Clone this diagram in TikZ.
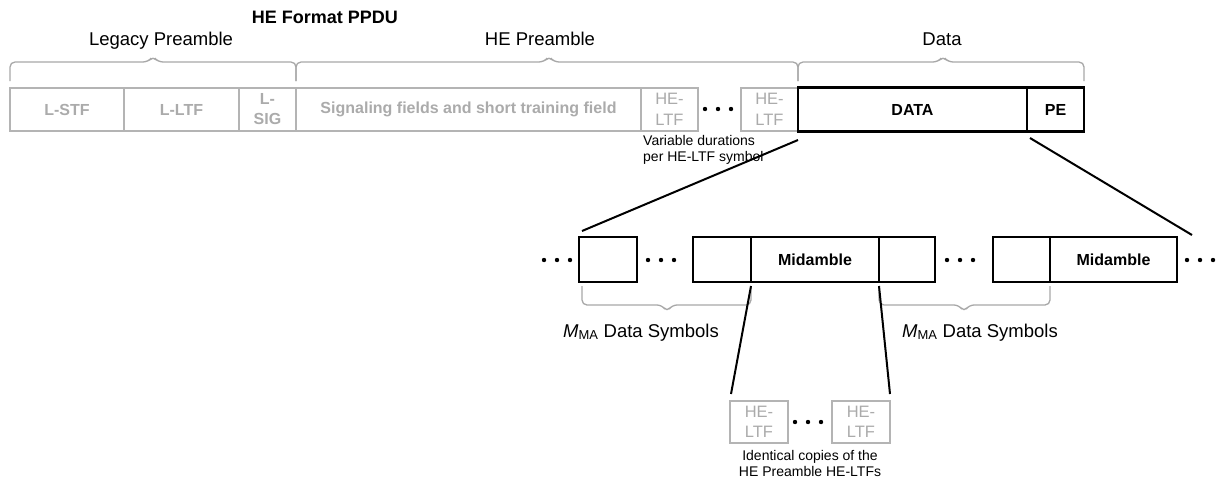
\documentclass[tikz,border=0pt]{standalone}
\usepackage{fontspec}
\setmainfont{Liberation Sans}
\definecolor{gline}{HTML}{B4B4B4}
\definecolor{gtext}{HTML}{ABABAB}
\definecolor{gbrace}{HTML}{A8A8A8}
\begin{document}
\begin{tikzpicture}[x=1pt,y=-1pt,
  gbox/.style={draw=gline, line width=2pt, text=gtext, inner sep=0pt, align=center, minimum height=43pt,
    font=\fontsize{16}{20}\selectfont\bfseries},
  gltf/.style={gbox, font=\fontsize{16.5}{20.5}\selectfont},
  bbox/.style={draw=black, line width=2.3pt, text=black, inner sep=0pt, align=center, minimum height=44pt,
    font=\fontsize{16}{20}\selectfont\bfseries},
  bracepath/.style={draw=gbrace, line width=1.3pt, rounded corners=5pt},
  conn/.style={draw=black, line width=2pt},
  bigl/.style={font=\fontsize{18.5}{22}\selectfont, inner sep=0pt},
  small/.style={font=\fontsize{14}{16.5}\selectfont, inner sep=0pt},
  dot/.style={fill=black}
]
\fill[white] (0,0) rectangle (1221,480);
\useasboundingbox (0,0) rectangle (1221,480);

% titles
\node[bigl, font=\fontsize{18}{22}\selectfont\bfseries, anchor=base] (title) at (325,23) {HE Format PPDU};
\node[bigl, anchor=base] (legacy) at (161,45) {Legacy Preamble};
\node[bigl, anchor=base] (hepre) at (540,45) {HE Preamble};
\node[bigl, anchor=base] (datal) at (942,45) {Data};

% top braces
\draw[bracepath] (10,81) -- (10,62) -- (148,62) -- (153,56) -- (158,62) -- (296,62) -- (296,81);
\draw[bracepath] (296,81) -- (296,62) -- (544,62) -- (549,56) -- (554,62) -- (798,62) -- (798,81);
\draw[bracepath] (798,81) -- (798,62) -- (938,62) -- (943,56) -- (948,62) -- (1084,62) -- (1084,81);

% top row
\node[gbox, minimum width=114pt] (lstf) at (67,109.5) {L-STF};
\node[gbox, minimum width=115pt] (lltf) at (181.5,109.5) {L-LTF};
\node[gbox, minimum width=57pt] (lsig) at (267.5,109.5) {L-\\SIG};
\node[gbox, minimum width=345pt] (sig) at (468.5,109.5) {Signaling fields and short training field};
\node[gltf, minimum width=57pt] (heltfa) at (669.5,109.5) {HE-\\LTF};
\node[gltf, minimum width=57pt] (heltfb) at (769.5,109.5) {HE-\\LTF};
\node[bbox, minimum width=229pt] (data) at (912.5,109.5) {DATA};
\node[bbox, minimum width=57pt] (pe) at (1055.5,109.5) {PE};
\foreach \x in {705,718,731} \fill[dot] (\x,109) circle (2.2pt);

\node[small, anchor=north west, align=left] (vardur) at (643,135) {Variable durations\\per HE-LTF symbol};

% second row
\node[bbox, minimum width=58pt, minimum height=45pt] (s1) at (608,259.5) {};
\node[bbox, minimum width=58pt, minimum height=45pt] (s2) at (722,259.5) {};
\node[bbox, minimum width=128pt, minimum height=45pt] (mid1) at (815,259.5) {Midamble};
\node[bbox, minimum width=56pt, minimum height=45pt] (s3) at (907,259.5) {};
\node[bbox, minimum width=57pt, minimum height=45pt] (s4) at (1021.5,259.5) {};
\node[bbox, minimum width=127pt, minimum height=45pt] (mid2) at (1113.5,259.5) {Midamble};
\foreach \x in {544,557,570,648,661,674,947,960,973,1187,1200,1213} \fill[dot] (\x,260) circle (2.2pt);

% zoom connectors
\coordinate (z1) at (798,140);
\coordinate (z2) at (582,231);
\coordinate (z3) at (1030,138);
\coordinate (z4) at (1192,235);
\draw[conn] (z1) -- (z2);
\draw[conn] (z3) -- (z4);

% lower braces
\draw[bracepath] (582,286) -- (582,305) -- (662,305) -- (667,312) -- (672,305) -- (751,305) -- (751,286);
\draw[bracepath] (879,286) -- (879,305) -- (959,305) -- (964,312) -- (969,305) -- (1050,305) -- (1050,286);
\node[bigl, anchor=base west] (mma1) at (563,337) {\textit{M}\textsubscript{MA} Data Symbols};
\node[bigl, anchor=base west] (mma2) at (902,337) {\textit{M}\textsubscript{MA} Data Symbols};

% bottom HE-LTF copies
\node[gltf, minimum width=58pt, minimum height=42pt] (c1) at (759,422) {HE-\\LTF};
\node[gltf, minimum width=58pt, minimum height=42pt] (c2) at (861,422) {HE-\\LTF};
\foreach \x in {795,808,821} \fill[dot] (\x,422) circle (2.2pt);
\coordinate (m1) at (751,286);
\coordinate (m2) at (731,394);
\coordinate (m3) at (879,286);
\coordinate (m4) at (890,394);
\draw[conn] (m1) -- (m2);
\draw[conn] (m3) -- (m4);
\node[small, anchor=north, align=center] (ident) at (810,450) {Identical copies of the\\HE Preamble HE-LTFs};
\end{tikzpicture}
\end{document}
